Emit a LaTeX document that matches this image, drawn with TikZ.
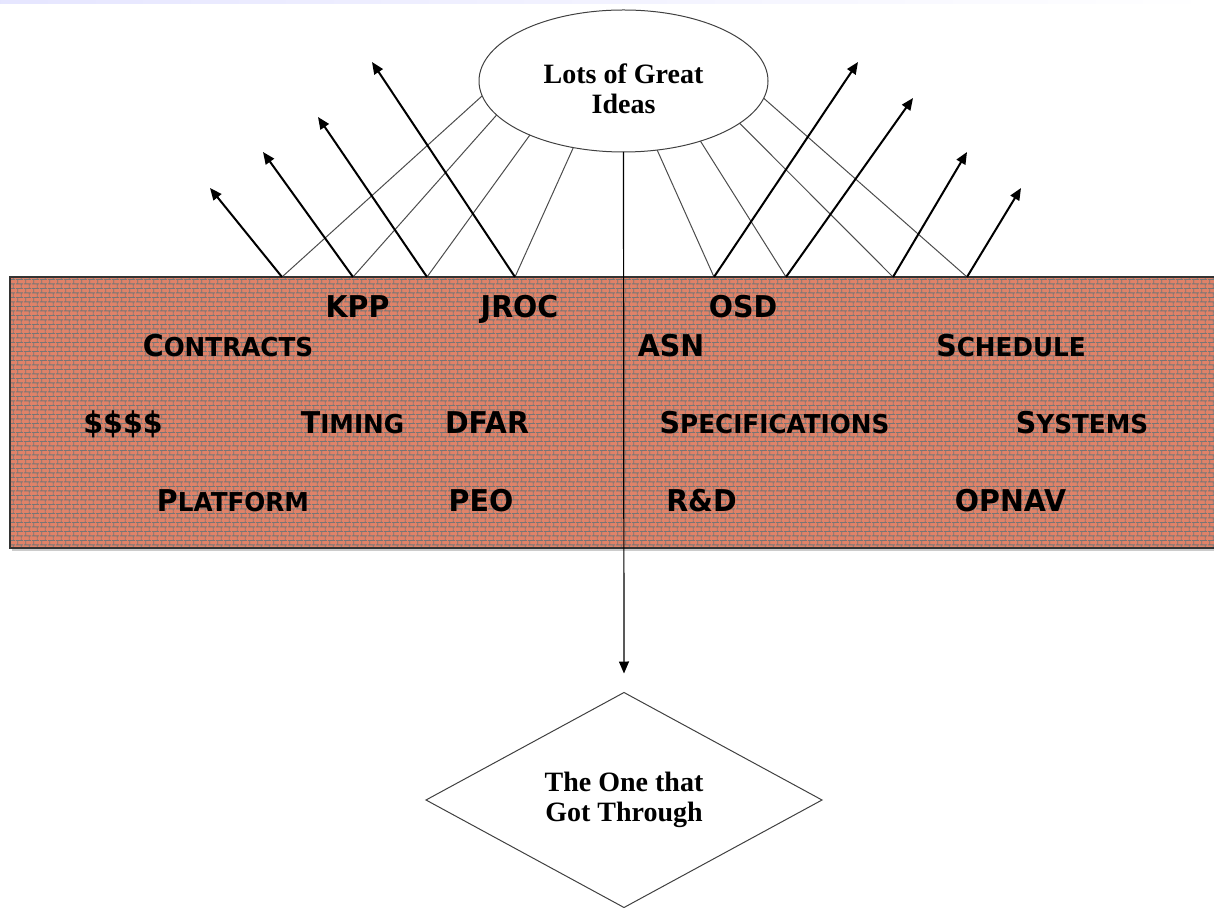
\documentclass[tikz,border=0pt]{standalone}
\usepackage{fontspec}
\setmainfont{Liberation Serif}
\newfontfamily\wallfont[FakeStretch=0.95]{DejaVu Sans}
\usetikzlibrary{shapes.geometric,arrows.meta,patterns}

\definecolor{brickfill}{RGB}{224,130,104}
\definecolor{mortar}{RGB}{118,118,118}

\pgfdeclarepatternformonly{wallbricks}{\pgfqpoint{0pt}{0pt}}{\pgfqpoint{4pt}{4.4pt}}{\pgfqpoint{4pt}{4.4pt}}{%
	\pgfsetlinewidth{0.45pt}
	\pgfpathmoveto{\pgfqpoint{0pt}{1.1pt}}\pgfpathlineto{\pgfqpoint{4pt}{1.1pt}}
	\pgfpathmoveto{\pgfqpoint{0pt}{3.3pt}}\pgfpathlineto{\pgfqpoint{4pt}{3.3pt}}
	\pgfpathmoveto{\pgfqpoint{1pt}{1.1pt}}\pgfpathlineto{\pgfqpoint{1pt}{3.3pt}}
	\pgfpathmoveto{\pgfqpoint{3pt}{3.3pt}}\pgfpathlineto{\pgfqpoint{3pt}{4.4pt}}
	\pgfpathmoveto{\pgfqpoint{3pt}{0pt}}\pgfpathlineto{\pgfqpoint{3pt}{1.1pt}}
	\pgfusepath{stroke}}

\newcommand{\smallcap}[2]{#1{\fontsize{13pt}{15pt}\selectfont #2}}

\begin{document}
\begin{tikzpicture}
	[x=0.5pt,y=-0.5pt,
	wallword/.style={font=\wallfont\bfseries\fontsize{15pt}{18pt}\selectfont,anchor=base,inner sep=0pt},
	idea/.style={ellipse,draw=black!75,line width=0.5pt,minimum width=144.5pt,minimum height=71pt,inner sep=0pt,outer sep=0pt},
	ideatext/.style={align=center,inner sep=0pt,font=\bfseries\fontsize{14pt}{15pt}\selectfont},
	through/.style={diamond,draw=black!75,line width=0.5pt,minimum width=198pt,minimum height=107.5pt,
		shape aspect=1.84,inner sep=0pt,outer sep=0pt,align=center,font=\bfseries\fontsize{14pt}{15pt}\selectfont},
	rayline/.style={draw=black!70,line width=0.5pt},
	bounce/.style={line width=1pt,-{Triangle[length=6pt,width=5pt]}},
	drop/.style={line width=0.6pt,-{Triangle[length=6pt,width=5pt]},shorten >=9.5pt}
	]
	\useasboundingbox (0,0) rectangle (1214,908);
	\shade[left color=blue!10,right color=white] (0,0) rectangle (1214,4);

	% the wall
	\fill[brickfill] (10,277) rectangle (1220,548);
	\fill[pattern=wallbricks,pattern color=mortar] (10,277) rectangle (1220,548);
	\draw[black!20,line width=1pt] (12,549.5) -- (1220,549.5);
	\draw[black!80,line width=0.8pt] (1220,277) -- (10,277) -- (10,548) -- (1220,548);

	\node[idea] (idea) at (623.5,81) {};
	\node[ideatext] (ideatext) at (623.5,89) {Lots of Great\\Ideas};
	\node[through] (through) at (624,800) {The One that\\Got Through};

	\coordinate (w1) at (282,277);
	\coordinate (w2) at (353,277);
	\coordinate (w3) at (427,277);
	\coordinate (w4) at (515,277);
	\coordinate (w5) at (714,277);
	\coordinate (w6) at (786,277);
	\coordinate (w7) at (893,277);
	\coordinate (w8) at (967,277);
	\coordinate (t1) at (210,188);
	\coordinate (t2) at (263,152);
	\coordinate (t3) at (318,117);
	\coordinate (t4) at (372,62);
	\coordinate (t5) at (858,62);
	\coordinate (t6) at (913,98);
	\coordinate (t7) at (967,152);
	\coordinate (t8) at (1021,188);

	\draw[rayline] (idea.186.8) -- (w1);
	\draw[rayline] (idea.195.5) -- (w2);
	\draw[rayline] (idea.210.9) -- (w3);
	\draw[rayline] (idea.233.3) -- (w4);
	\draw[rayline] (idea.296.9) -- (w5);
	\draw[rayline] (idea.322.3) -- (w6);
	\draw[rayline] (idea.340.3) -- (w7);
	\draw[rayline] (idea.353.7) -- (w8);

	\draw[bounce] (w1) -- (t1);
	\draw[bounce] (w2) -- (t2);
	\draw[bounce] (w3) -- (t3);
	\draw[bounce] (w4) -- (t4);
	\draw[bounce] (w5) -- (t5);
	\draw[bounce] (w6) -- (t6);
	\draw[bounce] (w7) -- (t7);
	\draw[bounce] (w8) -- (t8);

	\draw[drop] (idea.south) -- (through.north);

	% words on the wall
	\node[wallword] (kpp) at (357.5,318) {KPP};
	\node[wallword] (jroc) at (519.5,318) {JROC};
	\node[wallword] (osd) at (743,318) {OSD};
	\node[wallword] (contracts) at (228,357) {\smallcap{C}{ONTRACTS}};
	\node[wallword] (asn) at (671,357) {ASN};
	\node[wallword] (schedule) at (1011,357) {\smallcap{S}{CHEDULE}};
	\node[wallword] (money) at (123,434) {\$\$\$\$};
	\node[wallword] (timing) at (352.5,434) {\smallcap{T}{IMING}};
	\node[wallword] (dfar) at (487,434) {DFAR};
	\node[wallword] (specs) at (774.5,434) {\smallcap{S}{PECIFICATIONS}};
	\node[wallword] (systems) at (1082,434) {\smallcap{S}{YSTEMS}};
	\node[wallword] (platform) at (233,511) {\smallcap{P}{LATFORM}};
	\node[wallword] (peo) at (481,511) {PEO};
	\node[wallword] (rnd) at (701.5,511) {R\&D};
	\node[wallword] (opnav) at (1010.5,511) {OPNAV};
\end{tikzpicture}
\end{document}
